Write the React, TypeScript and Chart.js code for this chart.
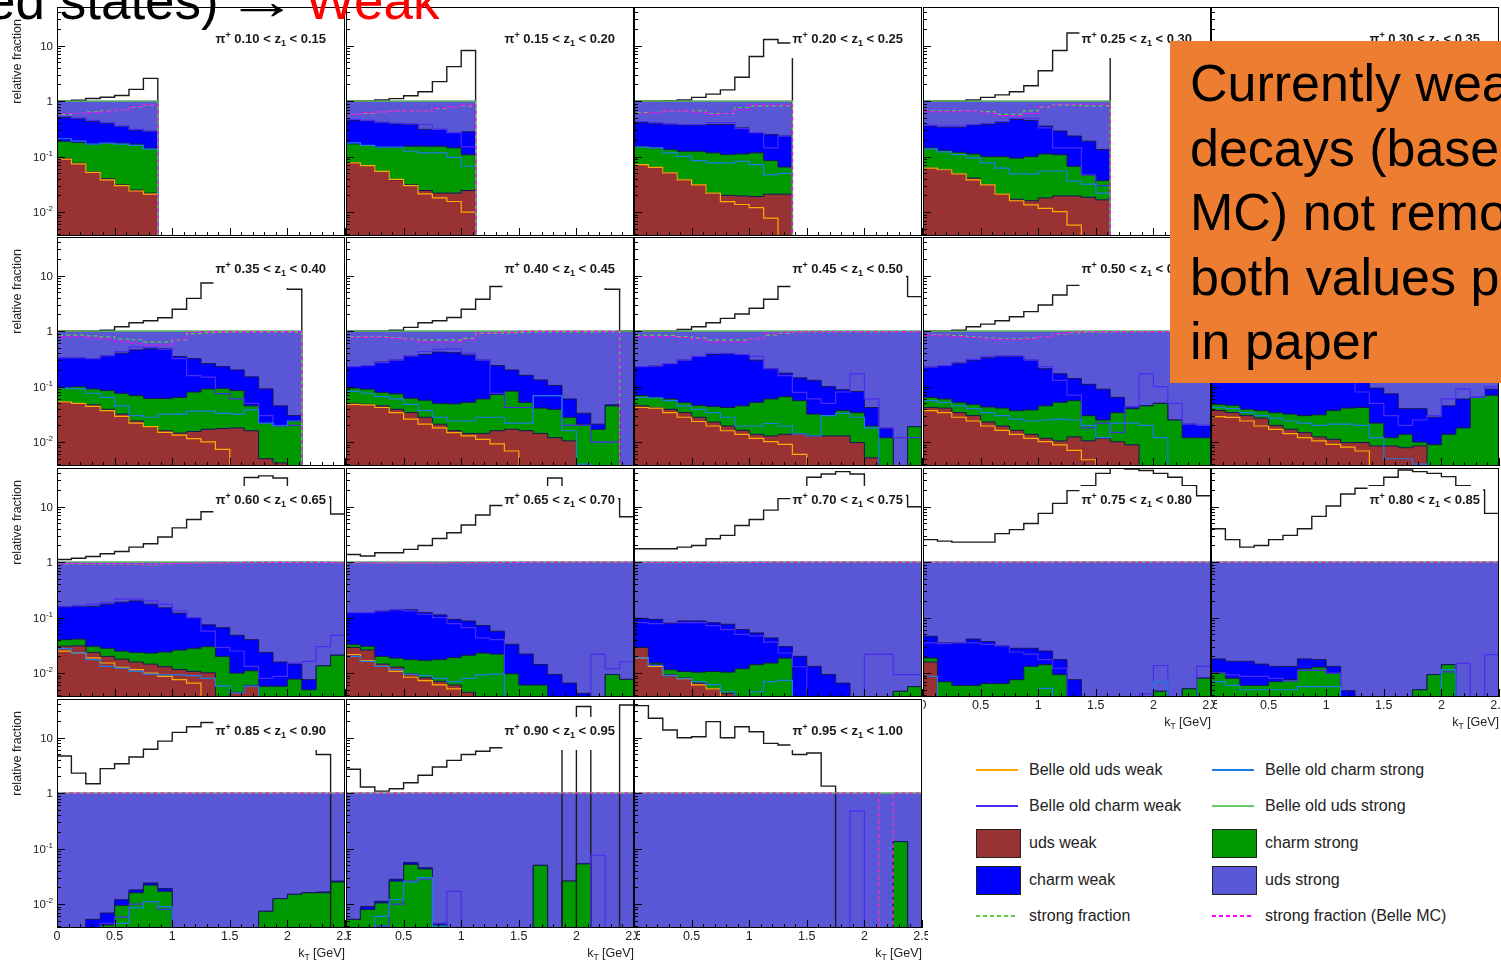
import React, { useEffect, useRef } from "react";
import { Chart, registerables } from "chart.js";

Chart.register(...registerables);

const FONT = '"Liberation Sans", Arial, Helvetica, sans-serif';

// ---------------- axes ----------------
const Y_MIN = 0.0037;
const Y_MAX = 50;
const KT_MIN = 0;
const KT_MAX = 2.5;
const BIN_WIDTH = 0.125;
const N_BINS = 20;
const kTTickValues = [0, 0.5, 1, 1.5, 2, 2.5];
const kTTickLabels = ["0", "0.5", "1", "1.5", "2", "2.5"];
const yTickValues = [0.01, 0.1, 1, 10];
const yTickBase = ["10", "10", "1", "10"];
const yTickExponent = ["-2", "-1", "", ""];

// ---------------- z1 bins ----------------
const zLow = [0.1, 0.15, 0.2, 0.25, 0.3, 0.35, 0.4, 0.45, 0.5, 0.55, 0.6, 0.65, 0.7, 0.75, 0.8, 0.85, 0.9, 0.95];
const zHigh = [0.15, 0.2, 0.25, 0.3, 0.35, 0.4, 0.45, 0.5, 0.55, 0.6, 0.65, 0.7, 0.75, 0.8, 0.85, 0.9, 0.95, 1.0];

// number of kT bins (0.125 GeV each) that are filled in each panel (the stack sums to 1 there)
const filledBins = [7, 9, 11, 13, 15, 17, 20, 20, 20, 20, 20, 20, 20, 20, 20, 20, 20, 20];

// black histogram (ratio), one row per z1 panel
const ratio: number[][] = [
  [1.0, 1.04, 1.12, 1.18, 1.27, 1.63, 2.58],
  [1.0, 1.0, 1.05, 1.11, 1.25, 1.48, 2.25, 4.2, 8.2],
  [1.0, 1.0, 1.01, 1.05, 1.17, 1.34, 1.6, 2.7, 6.4, 13, 11.2],
  [1.0, 1.0, 1.0, 1.05, 1.17, 1.3, 1.48, 1.9, 3.55, 8.2, 17, 20, 22],
  [1.0, 1.0, 1.02, 1.06, 1.15, 1.3, 1.5, 1.9, 2.8, 5.5, 11, 16, 19, 20, 8],
  [1.0, 1.0, 1.0, 1.04, 1.2, 1.42, 1.54, 1.75, 2.48, 3.9, 7.4, 12, 16, 20, 22, 18, 5.7],
  [1.0, 1.0, 1.0, 1.04, 1.17, 1.42, 1.54, 1.77, 2.48, 3.76, 6.4, 10, 14, 18, 20, 18, 14, 10, 5.7, 1.0],
  [1.0, 1.0, 1.0, 1.07, 1.2, 1.42, 1.7, 2.04, 2.6, 3.76, 6.4, 10, 14, 18, 20, 20, 18, 14, 9.7, 4.2],
  [1.0, 1.0, 1.04, 1.2, 1.34, 1.54, 1.82, 2.25, 2.97, 4.5, 6.7, 10, 14, 18, 20, 21, 20, 18, 12, 6],
  [1.05, 1.05, 1.1, 1.2, 1.35, 1.55, 1.85, 2.3, 3.0, 4.6, 7, 11, 16, 22, 26, 28, 26, 22, 15, 7],
  [1.12, 1.18, 1.27, 1.42, 1.56, 1.87, 2.15, 2.85, 4.15, 5.9, 8.1, 13, 20, 33.7, 36, 33, 20, 18, 15, 7.4],
  [1.38, 1.29, 1.48, 1.48, 1.7, 2.0, 2.67, 3.4, 4.7, 7.1, 10.5, 15, 20, 22, 33, 22, 20, 18, 14, 6.6],
  [1.75, 1.75, 1.75, 1.87, 2.0, 2.65, 3.05, 4.6, 5.9, 8.7, 14, 20, 34, 39, 43, 39, 22, 20, 16, 10],
  [2.55, 2.4, 2.3, 2.3, 2.3, 3.27, 3.87, 5.0, 7.6, 11.5, 19.5, 24, 40, 50, 48, 45, 40, 34, 24, 15.8],
  [4.0, 2.55, 1.87, 2.0, 2.55, 3.05, 4.0, 6.7, 10.3, 17, 21.5, 24, 34, 46, 43, 40, 35, 24, 20, 7.6],
  [4.7, 2.3, 1.48, 2.77, 3.4, 4.5, 6.2, 8.7, 12.5, 15.8, 18.8, 20, 20, 20, 20, 20, 20, 18, 5.0, 0],
  [2.7, 1.29, 1.09, 1.2, 1.54, 2.1, 2.97, 3.9, 5.0, 5.7, 6.6, 8, 10, 12, 14, 0, 36.6, 0, 0, 39],
  [38, 22.5, 13.8, 10, 10.4, 19.5, 10, 15.8, 12.8, 7.9, 7.4, 5.0, 5.3, 1.34],
];

// stack boundaries (cumulative): top of "uds weak"
const udsWeakLevel: number[][] = [
  [0.093, 0.076, 0.053, 0.04, 0.031, 0.025, 0.022],
  [0.077, 0.069, 0.054, 0.038, 0.031, 0.0245, 0.022, 0.022, 0.0245],
  [0.072, 0.064, 0.051, 0.038, 0.031, 0.022, 0.02, 0.0195, 0.019, 0.021, 0.021],
  [0.062, 0.058, 0.049, 0.041, 0.031, 0.021, 0.017, 0.016, 0.018, 0.0195, 0.0195, 0.0185, 0.0166],
  [0.058, 0.054, 0.046, 0.038, 0.03, 0.022, 0.018, 0.016, 0.016, 0.017, 0.018, 0.018, 0.017, 0.016, 0.012],
  [0.053, 0.05, 0.047, 0.039, 0.032, 0.024, 0.019, 0.016, 0.0145, 0.0155, 0.017, 0.0175, 0.018, 0.016, 0.005, 0.0042, 0],
  [0.05, 0.048, 0.045, 0.039, 0.034, 0.028, 0.021, 0.016, 0.0143, 0.0143, 0.016, 0.017, 0.016, 0.0143, 0.012, 0.0105],
  [0.045, 0.042, 0.039, 0.034, 0.028, 0.023, 0.0195, 0.0163, 0.0138, 0.0129, 0.0138, 0.0141, 0.0129, 0.0129, 0.0129, 0.0098, 0.0052],
  [0.042, 0.041, 0.034, 0.03, 0.023, 0.0195, 0.0163, 0.0138, 0.0117, 0.0105, 0.0124, 0.0105, 0.0117, 0.0101, 0.0089],
  [0.037, 0.034, 0.03, 0.027, 0.02, 0.017, 0.0148, 0.0124, 0.0112, 0.0098, 0.0098, 0.0085, 0.0085, 0.0079, 0.0085],
  [0.0305, 0.031, 0.0236, 0.02, 0.0178, 0.0158, 0.0145, 0.013, 0.0116, 0.0107, 0.0101, 0, 0.0045, 0.006],
  [0.029, 0.026, 0.0145, 0.0128, 0.0097, 0.0082, 0.0071, 0.0061, 0.0045],
  [0.029, 0.0145, 0.0094, 0.0081, 0.0066, 0.0052, 0.0043],
  [0.0158],
  [],
  [],
  [],
  [],
];

// top of "charm strong" (uds weak + charm strong)
const charmStrongLevel: number[][] = [
  [0.19, 0.18, 0.168, 0.175, 0.175, 0.168, 0.142],
  [0.17, 0.16, 0.148, 0.148, 0.154, 0.154, 0.154, 0.144, 0.108],
  [0.154, 0.144, 0.134, 0.125, 0.125, 0.117, 0.109, 0.112, 0.117, 0.085, 0.065],
  [0.144, 0.13, 0.12, 0.112, 0.1, 0.1, 0.094, 0.1, 0.112, 0.108, 0.067, 0.047, 0.037],
  [0.13, 0.12, 0.11, 0.1, 0.092, 0.085, 0.08, 0.08, 0.09, 0.095, 0.08, 0.06, 0.045, 0.035, 0.03],
  [0.097, 0.1, 0.091, 0.085, 0.076, 0.069, 0.061, 0.061, 0.064, 0.08, 0.091, 0.093, 0.085, 0.045, 0.022, 0.0195, 0.024],
  [0.094, 0.09, 0.079, 0.074, 0.062, 0.057, 0.05, 0.049, 0.052, 0.06, 0.072, 0.083, 0.052, 0.041, 0.039, 0.028, 0.021, 0.017, 0.045, 0],
  [0.069, 0.064, 0.06, 0.052, 0.046, 0.044, 0.042, 0.045, 0.052, 0.06, 0.066, 0.056, 0.032, 0.03, 0.037, 0.034, 0.0195, 0.012, 0, 0.019],
  [0.064, 0.06, 0.052, 0.048, 0.043, 0.041, 0.037, 0.038, 0.045, 0.052, 0.056, 0.03, 0.025, 0.034, 0.04, 0.045, 0.05, 0.025, 0.012, 0.012],
  [0.048, 0.046, 0.039, 0.037, 0.034, 0.032, 0.03, 0.031, 0.037, 0.041, 0.042, 0.022, 0.012, 0.0138, 0.01, 0.009, 0.0138, 0.018, 0.064, 0.07],
  [0.04, 0.041, 0.0305, 0.028, 0.025, 0.0236, 0.023, 0.024, 0.026, 0.028, 0.03, 0.02, 0.01, 0.011, 0.0058, 0.0058, 0.0078, 0.005, 0.0135, 0.021],
  [0.033, 0.0305, 0.02, 0.0186, 0.0175, 0.017, 0.0175, 0.019, 0.021, 0.023, 0.022, 0.0097, 0.0061, 0.0061, 0, 0, 0, 0, 0.0094, 0.0077],
  [0.029, 0.0152, 0.0115, 0.0107, 0.0104, 0.0107, 0.0104, 0.012, 0.0142, 0.0152, 0.0186, 0, 0, 0, 0, 0, 0, 0, 0.0047, 0.0057],
  [0.0187, 0.007, 0.006, 0.006, 0.0065, 0.0065, 0.0076, 0.0132, 0.0142, 0.0094, 0, 0, 0, 0, 0, 0, 0.0047, 0, 0.0052, 0.0081],
  [0.0104, 0.0081, 0.006, 0.006, 0.007, 0.0076, 0.012, 0.0128, 0.01, 0, 0, 0, 0, 0, 0.005, 0.0094, 0.0142],
  [0, 0, 0, 0.0042, 0.0095, 0.016, 0.022, 0.017, 0, 0, 0, 0, 0, 0, 0.0074, 0.0125, 0.015, 0.016, 0.016, 0.025],
  [0.0053, 0.008, 0.0105, 0.026, 0.052, 0.043, 0.0042, 0, 0, 0, 0, 0, 0, 0.05, 0, 0.026, 0.053],
  [0, 0, 0, 0, 0, 0, 0, 0, 0, 0, 0, 0, 0, 0, 0, 0, 0, 0, 0.134],
];

// top of "charm weak" (uds weak + charm strong + charm weak)
const charmWeakLevel: number[][] = [
  [0.51, 0.48, 0.43, 0.4, 0.35, 0.3, 0.285],
  [0.45, 0.44, 0.41, 0.39, 0.38, 0.31, 0.31, 0.27, 0.28],
  [0.41, 0.39, 0.38, 0.37, 0.37, 0.38, 0.38, 0.33, 0.27, 0.25, 0.235],
  [0.355, 0.34, 0.34, 0.37, 0.38, 0.41, 0.47, 0.45, 0.355, 0.29, 0.235, 0.19, 0.134],
  [0.34, 0.33, 0.34, 0.36, 0.39, 0.43, 0.47, 0.46, 0.38, 0.31, 0.26, 0.21, 0.17, 0.12, 0.07],
  [0.33, 0.33, 0.32, 0.36, 0.4, 0.46, 0.48, 0.48, 0.35, 0.32, 0.26, 0.23, 0.2, 0.15, 0.091, 0.045, 0.03],
  [0.23, 0.24, 0.277, 0.3, 0.35, 0.38, 0.42, 0.41, 0.37, 0.3, 0.24, 0.2, 0.16, 0.132, 0.105, 0.06, 0.033, 0.021, 0.047, 0],
  [0.23, 0.235, 0.26, 0.3, 0.35, 0.38, 0.39, 0.38, 0.3, 0.21, 0.175, 0.144, 0.13, 0.1, 0.088, 0.082, 0.042, 0.0175, 0, 0.019],
  [0.225, 0.24, 0.26, 0.3, 0.33, 0.35, 0.35, 0.3, 0.21, 0.17, 0.14, 0.11, 0.09, 0.064, 0.043, 0.045, 0.05, 0.025, 0.021, 0.02],
  [0.22, 0.24, 0.27, 0.3, 0.33, 0.35, 0.36, 0.34, 0.28, 0.22, 0.14, 0.094, 0.074, 0.04, 0.04, 0.028, 0.045, 0.06, 0.064, 0.09],
  [0.157, 0.16, 0.16, 0.175, 0.19, 0.2, 0.175, 0.15, 0.12, 0.1, 0.074, 0.066, 0.048, 0.04, 0.0236, 0.0158, 0.0145, 0.0076, 0.0135, 0.021],
  [0.123, 0.123, 0.13, 0.138, 0.138, 0.123, 0.112, 0.093, 0.087, 0.072, 0.057, 0.033, 0.022, 0.0142, 0.0094, 0.0066, 0.0043, 0, 0.0094, 0.0077],
  [0.097, 0.093, 0.078, 0.087, 0.087, 0.081, 0.076, 0.061, 0.053, 0.043, 0.03, 0.02, 0.0132, 0.0094, 0.0066, 0, 0, 0, 0.0047, 0.0057],
  [0.046, 0.035, 0.035, 0.041, 0.037, 0.031, 0.028, 0.028, 0.025, 0.0175, 0.0076, 0, 0, 0, 0, 0, 0.0047, 0, 0.0052, 0.0081],
  [0.018, 0.0163, 0.0163, 0.0145, 0.0132, 0.0132, 0.018, 0.0175, 0.0132, 0.0048, 0, 0, 0, 0, 0.005, 0.0094, 0.0142],
  [0, 0, 0.0053, 0.0069, 0.012, 0.018, 0.024, 0.019, 0, 0, 0, 0, 0, 0, 0.0074, 0.0125, 0.015, 0.016, 0.0165, 0.026],
  [0.0053, 0.009, 0.0112, 0.028, 0.056, 0.045, 0.0045, 0, 0, 0, 0, 0, 0, 0.05, 0, 0.026, 0.053],
  [0, 0, 0, 0, 0, 0, 0, 0, 0, 0, 0, 0, 0, 0, 0, 0, 0, 0, 0.134],
];

// Belle old curves (drawn at their stacked levels)
const belleUdsWeak: number[][] = [
  [0.09, 0.074, 0.052, 0.038, 0.03, 0.024, 0.021],
  [0.077, 0.069, 0.054, 0.039, 0.03, 0.0213, 0.018, 0.0155, 0.01],
  [0.072, 0.064, 0.051, 0.038, 0.031, 0.022, 0.0154, 0.0137, 0.012, 0.0078],
  [0.062, 0.058, 0.049, 0.038, 0.031, 0.021, 0.016, 0.0135, 0.0117, 0.0102, 0.0058],
  [0.058, 0.054, 0.046, 0.036, 0.028, 0.02, 0.016, 0.013, 0.011, 0.0095, 0.0075, 0.005],
  [0.053, 0.05, 0.044, 0.037, 0.029, 0.022, 0.019, 0.015, 0.0133, 0.0115, 0.0101, 0.0074],
  [0.048, 0.047, 0.042, 0.034, 0.026, 0.021, 0.018, 0.0148, 0.0129, 0.0112, 0.0093, 0.0069],
  [0.042, 0.041, 0.034, 0.028, 0.0235, 0.0195, 0.016, 0.0138, 0.0117, 0.0102, 0.0091, 0.006],
  [0.037, 0.034, 0.028, 0.024, 0.0195, 0.0163, 0.0138, 0.0117, 0.0102, 0.0089, 0.0071, 0.0048],
  [0.0287, 0.0279, 0.024, 0.0195, 0.017, 0.0142, 0.012, 0.0105, 0.0091, 0.0081, 0.0069],
  [0.0248, 0.0231, 0.0188, 0.0152, 0.0127, 0.0115, 0.01, 0.0087, 0.0076, 0.0066],
  [0.0216, 0.0168, 0.0132, 0.0107, 0.0084, 0.0073, 0.0061, 0.0052],
  [0.0188, 0.0132, 0.0091, 0.0079, 0.0061, 0.0052],
  [],
  [],
  [],
  [],
  [],
];

const belleCharmStrong: number[][] = [
  [0.21, 0.19, 0.168, 0.175, 0.168, 0.159, 0.136],
  [0.177, 0.16, 0.148, 0.148, 0.125, 0.117, 0.117, 0.097, 0.067],
  [0.148, 0.144, 0.117, 0.101, 0.085, 0.077, 0.077, 0.082, 0.072, 0.047, 0.05],
  [0.137, 0.122, 0.109, 0.095, 0.077, 0.062, 0.049, 0.049, 0.055, 0.055, 0.036, 0.032, 0.022],
  [0.125, 0.11, 0.095, 0.08, 0.065, 0.055, 0.047, 0.045, 0.045, 0.045, 0.035, 0.03, 0.025, 0.02, 0.015],
  [0.094, 0.091, 0.076, 0.064, 0.045, 0.03, 0.028, 0.032, 0.032, 0.036, 0.036, 0.033, 0.032, 0.038, 0.022, 0.0195, 0.024],
  [0.082, 0.076, 0.066, 0.06, 0.048, 0.037, 0.028, 0.024, 0.024, 0.028, 0.028, 0.022, 0.022, 0.069, 0.069, 0.016, 0.004],
  [0.064, 0.063, 0.056, 0.045, 0.039, 0.034, 0.028, 0.0195, 0.0195, 0.0216, 0.0195, 0.0141, 0.0129, 0.03, 0.033, 0.028, 0.018],
  [0.056, 0.052, 0.045, 0.04, 0.034, 0.03, 0.026, 0.024, 0.025, 0.026, 0.025, 0.02, 0.012, 0.022, 0.022, 0.02, 0.012],
  [0.042, 0.04, 0.034, 0.03, 0.027, 0.024, 0.022, 0.02, 0.021, 0.021, 0.02, 0.012, 0.005, 0.005, 0.004],
  [0.0277, 0.0231, 0.0175, 0.0132, 0.0123, 0.0107, 0.0096, 0.0093, 0.0093, 0.009, 0.008, 0.0058, 0.0044, 0.0058],
  [0.02, 0.0163, 0.0132, 0.0115, 0.0096, 0.009, 0.008, 0.007, 0.008, 0.0093, 0.0096],
  [0.0188, 0.0138, 0.009, 0.0079, 0.007, 0.0062, 0.0046, 0, 0.0046, 0.007, 0.0074],
  [0.0087, 0, 0, 0, 0, 0, 0, 0, 0.0053, 0, 0, 0, 0, 0, 0, 0, 0.007],
  [0.007, 0.006, 0.005, 0.005, 0.005, 0.005, 0.0057, 0.0057, 0.0057, 0, 0, 0, 0, 0, 0, 0, 0.0115],
  [0, 0, 0, 0, 0.0045, 0.0085, 0.011, 0.009],
  [0, 0, 0.006, 0.012, 0.025, 0.03, 0.004],
  [],
];

const belleCharmWeak: number[][] = [
  [0.53, 0.5, 0.45, 0.41, 0.36, 0.31, 0.29],
  [0.47, 0.45, 0.42, 0.4, 0.39, 0.38, 0.31, 0.27, 0.15],
  [0.43, 0.41, 0.39, 0.38, 0.38, 0.41, 0.41, 0.32, 0.27, 0.144, 0.235],
  [0.37, 0.355, 0.355, 0.38, 0.4, 0.43, 0.49, 0.49, 0.33, 0.144, 0.144, 0.047, 0.03],
  [0.35, 0.34, 0.35, 0.38, 0.41, 0.46, 0.5, 0.48, 0.34, 0.16, 0.14, 0.07, 0.05, 0.03, 0.02],
  [0.33, 0.33, 0.32, 0.36, 0.43, 0.52, 0.51, 0.47, 0.32, 0.158, 0.148, 0.075, 0.06, 0.05, 0.03, 0.02, 0.02],
  [0.23, 0.24, 0.27, 0.3, 0.36, 0.43, 0.47, 0.48, 0.4, 0.3, 0.076, 0.042, 0.042, 0.069, 0.069, 0.02, 0.02, 0.01, 0.01],
  [0.23, 0.235, 0.26, 0.3, 0.35, 0.4, 0.4, 0.38, 0.35, 0.21, 0.158, 0.079, 0.06, 0.05, 0.08, 0.17, 0.06, 0.018, 0.012, 0.012],
  [0.225, 0.24, 0.27, 0.31, 0.35, 0.36, 0.36, 0.3, 0.23, 0.13, 0.07, 0.018, 0.022, 0.015, 0.043, 0.17, 0.1, 0.05, 0.021, 0.02],
  [0.22, 0.24, 0.27, 0.3, 0.34, 0.36, 0.36, 0.3, 0.22, 0.14, 0.08, 0.05, 0.03, 0.02, 0.025, 0.03, 0.06, 0.09, 0.064, 0.1],
  [0.157, 0.163, 0.175, 0.187, 0.215, 0.215, 0.2, 0.175, 0.133, 0.1, 0.057, 0.029, 0.025, 0.0132, 0.008, 0.0087, 0.0152, 0.0163, 0.03, 0.048],
  [0.123, 0.123, 0.132, 0.138, 0.132, 0.115, 0.1, 0.078, 0.066, 0.043, 0.04, 0, 0, 0, 0, 0, 0, 0.022, 0.012, 0.016],
  [0.081, 0.078, 0.081, 0.081, 0.081, 0.072, 0.061, 0.05, 0.047, 0.036, 0.023, 0.013, 0, 0, 0, 0, 0.022, 0.022, 0.0094, 0.0094],
  [0.035, 0.034, 0.035, 0.035, 0.033, 0.031, 0.024, 0.022, 0.0175, 0.0122, 0, 0, 0, 0, 0, 0.0042, 0.0137, 0, 0, 0.0132],
  [0.01, 0.0093, 0.0087, 0.0087, 0.008, 0.0072, 0.0112, 0.0112, 0.01, 0, 0, 0, 0, 0, 0, 0, 0.0105, 0.015, 0, 0.0215],
  [0, 0, 0, 0.0045, 0.0058, 0.01, 0.011, 0.008],
  [0, 0, 0.004, 0.01, 0.026, 0.028, 0.0045, 0.017, 0, 0, 0, 0, 0, 0, 0, 0, 0, 0.076],
  [0, 0, 0, 0, 0, 0, 0, 0, 0, 0, 0, 0, 0, 0, 0, 0.48],
];

// strong fraction (this analysis) and strong fraction (Belle MC)
const strongFraction: number[][] = [
  [0.57, 0.6, 0.64, 0.66, 0.7, 0.78, 0.85],
  [0.58, 0.6, 0.64, 0.66, 0.67, 0.67, 0.73, 0.8, 0.82],
  [0.62, 0.63, 0.67, 0.67, 0.67, 0.6, 0.6, 0.77, 0.82, 0.82, 0.82],
  [0.67, 0.67, 0.67, 0.67, 0.65, 0.58, 0.58, 0.67, 0.79, 0.86, 0.85, 0.82, 0.82],
  [0.7, 0.7, 0.7, 0.68, 0.65, 0.6, 0.6, 0.68, 0.8, 0.86, 0.88, 0.9, 0.9, 0.9, 0.92],
  [0.85, 0.85, 0.82, 0.79, 0.72, 0.7, 0.64, 0.64, 0.7, 0.9, 0.93, 0.95, 0.97, 0.97, 0.97, 0.97, 0.97],
  [0.79, 0.8, 0.79, 0.77, 0.72, 0.69, 0.69, 0.69, 0.74, 0.91, 0.92, 0.93, 0.96, 0.97, 0.97, 0.97, 0.97, 0.97, 0.98, 0],
  [0.85, 0.85, 0.84, 0.8, 0.75, 0.69, 0.69, 0.69, 0.73, 0.85, 0.92, 0.96, 0.97, 0.97, 0.97, 0.97, 0.97, 0.98, 0.98, 0.98],
  [0.86, 0.85, 0.83, 0.79, 0.75, 0.73, 0.73, 0.75, 0.8, 0.88, 0.93, 0.95, 0.96, 0.97, 0.97, 0.98, 0.98, 0.98, 0.98, 0.98],
  [0.88, 0.87, 0.86, 0.83, 0.8, 0.78, 0.78, 0.8, 0.85, 0.9, 0.94, 0.96, 0.97, 0.97, 0.98, 0.98, 0.98, 0.98, 0.98, 0.98],
  [0.93, 0.93, 0.92, 0.92, 0.91, 0.91, 0.9, 0.92, 0.94, 0.95, 0.96, 0.97, 0.98, 0.98, 0.99, 0.99, 0.99, 0.99, 0.99, 0.98],
  [0.97, 0.97, 0.96, 0.96, 0.96, 0.96, 0.96, 0.97, 0.97, 0.98, 0.98, 0.99, 0.99, 0.99, 1, 1, 1, 1, 0.99, 0.99],
  [0.98, 0.98, 0.98, 0.98, 0.98, 0.98, 0.98, 0.98, 0.99, 0.99, 0.99, 1, 1, 1, 1, 1, 1, 1, 1, 1],
  [0.99, 0.99, 0.99, 0.99, 0.99, 0.99, 0.99, 0.99, 0.99, 1, 1, 1, 1, 1, 1, 1, 1, 1, 1, 1],
  [1, 1, 1, 1, 1, 1, 1, 1, 1, 1, 1, 1, 1, 1, 1, 1, 1, 1, 1, 1],
  [1, 1, 1, 1, 1, 1, 1, 1, 1, 1, 1, 1, 1, 1, 1, 1, 1, 1, 1, 1],
  [1, 1, 1, 1, 1, 1, 1, 1, 1, 1, 1, 1, 1, 1, 1, 1, 1, 1, 1, 1],
  [1, 1, 1, 1, 1, 1, 1, 1, 1, 1, 1, 1, 1, 1, 1, 1, 1, 0, 1, 1],
];

const strongFractionBelle: number[][] = [
  [0.6, 0.6, 0.62, 0.64, 0.7, 0.8, 0.87],
  [0.58, 0.62, 0.64, 0.66, 0.67, 0.67, 0.76, 0.8, 0.85],
  [0.6, 0.62, 0.67, 0.67, 0.63, 0.58, 0.6, 0.7, 0.85, 0.85, 0.85],
  [0.65, 0.65, 0.65, 0.66, 0.6, 0.55, 0.55, 0.6, 0.8, 0.88, 0.88, 0.88, 0.88],
  [0.68, 0.68, 0.68, 0.66, 0.62, 0.57, 0.57, 0.65, 0.8, 0.88, 0.9, 0.91, 0.92, 0.92, 0.93],
  [0.79, 0.79, 0.76, 0.72, 0.65, 0.6, 0.56, 0.56, 0.7, 0.95, 0.97, 0.97, 0.97, 0.98, 0.98, 0.98, 0.98],
  [0.77, 0.78, 0.77, 0.74, 0.7, 0.64, 0.64, 0.64, 0.7, 0.92, 0.94, 0.96, 0.99, 0.99, 0.99, 0.99, 0.99, 0.99, 0.99, 0],
  [0.8, 0.8, 0.8, 0.77, 0.72, 0.64, 0.64, 0.64, 0.72, 0.9, 0.95, 0.97, 0.98, 0.98, 0.98, 0.98, 0.98, 0.98, 0.98, 0.98],
  [0.84, 0.82, 0.8, 0.77, 0.72, 0.7, 0.7, 0.72, 0.8, 0.9, 0.95, 0.97, 0.98, 0.98, 0.98, 0.98, 0.98, 0.98, 0.98, 0.98],
  [0.87, 0.86, 0.85, 0.82, 0.79, 0.77, 0.77, 0.79, 0.85, 0.91, 0.95, 0.97, 0.98, 0.98, 0.98, 0.98, 0.98, 0.98, 0.98, 0.98],
  [0.95, 0.95, 0.94, 0.94, 0.93, 0.93, 0.92, 0.93, 0.95, 0.96, 0.97, 0.98, 0.98, 0.99, 0.99, 0.99, 0.99, 0.99, 0.99, 0.98],
  [0.98, 0.98, 0.97, 0.97, 0.97, 0.97, 0.97, 0.98, 0.98, 0.98, 0.99, 0.99, 0.99, 1, 1, 1, 1, 1, 1, 1],
  [0.99, 0.99, 0.99, 0.99, 0.99, 0.99, 0.99, 0.99, 0.99, 1, 1, 1, 1, 1, 1, 1, 1, 1, 1, 1],
  [1, 1, 1, 1, 1, 1, 1, 1, 1, 1, 1, 1, 1, 1, 1, 1, 1, 1, 1, 1],
  [1, 1, 1, 1, 1, 1, 1, 1, 1, 1, 1, 1, 1, 1, 1, 1, 1, 1, 1, 1],
  [1, 1, 1, 1, 1, 1, 1, 1, 1, 1, 1, 1, 1, 1, 1, 1, 1, 1, 1, 1],
  [1, 1, 1, 1, 1, 1, 1, 1, 1, 1, 1, 1, 1, 1, 1, 1, 1, 1, 1, 1],
  [1, 1, 1, 1, 1, 1, 1, 1, 1, 1, 1, 1, 1, 1, 1, 1, 1, 0, 1, 1],
];

// ---------------- colours ----------------
const C_UDS_WEAK = "#993333";
const C_CHARM_STRONG = "#009900";
const C_CHARM_WEAK = "#0000ff";
const C_UDS_STRONG = "#5957d6";
const C_EDGE = "#17175a";
const C_BELLE_UDS_WEAK = "#ffaa00";
const C_BELLE_CHARM_WEAK = "#4a2cf0";
const C_BELLE_CHARM_STRONG = "#1f7be6";
const C_BELLE_UDS_STRONG = "#66cc66";
const C_SF = "#5fcc3f";
const C_SF_BELLE = "#ff00ff";

// ---------------- layout ----------------
const COL_LEFT = [57, 346, 634, 923, 1211];
const ROW_TOP = [7, 237, 468, 699];
const PLOT_W = 288;
const PLOT_H = 229;
const M_L = 57;
const M_R = 6;
const M_T = 6;
const M_B = 36;

function stepPoints(vals: number[]) {
  const pts: { x: number; y: number }[] = [{ x: KT_MIN, y: Y_MIN }];
  let last = Y_MIN;
  for (let i = 0; i < N_BINS; i++) {
    const v = vals[i] ?? 0;
    last = v > Y_MIN ? v : Y_MIN;
    pts.push({ x: KT_MIN + i * BIN_WIDTH, y: last });
  }
  pts.push({ x: KT_MIN + N_BINS * BIN_WIDTH, y: last });
  return pts;
}

type Run = { t: string; size: number; bold?: boolean; dy: number };

function measureRuns(ctx: CanvasRenderingContext2D, runs: Run[]) {
  let w = 0;
  for (const r of runs) {
    ctx.font = `${r.bold ? "bold " : ""}${r.size}px ${FONT}`;
    w += ctx.measureText(r.t).width;
  }
  return w;
}

function drawRuns(ctx: CanvasRenderingContext2D, runs: Run[], x: number, baseline: number) {
  for (const r of runs) {
    ctx.font = `${r.bold ? "bold " : ""}${r.size}px ${FONT}`;
    ctx.fillText(r.t, x, baseline + r.dy);
    x += ctx.measureText(r.t).width;
  }
}

const decorPlugin = {
  id: "decor",
  afterDatasetsDraw(chart: any, _args: any, o: any) {
    const ctx: CanvasRenderingContext2D = chart.ctx;
    const a = chart.chartArea;
    const xs = chart.scales.x;
    const ys = chart.scales.y;
    ctx.save();
    ctx.textAlign = "left";
    ctx.textBaseline = "alphabetic";

    // panel label in a white box
    const runs: Run[] = [
      { t: "π", size: 13, bold: true, dy: 0 },
      { t: "+", size: 9, bold: true, dy: -5 },
      { t: " " + o.lo + " < z", size: 13, bold: true, dy: 0 },
      { t: "1", size: 9, bold: true, dy: 3 },
      { t: " < " + o.hi, size: 13, bold: true, dy: 0 },
    ];
    const w = measureRuns(ctx, runs);
    const textRight = a.right - 19;
    const textLeft = textRight - w;
    ctx.fillStyle = "#ffffff";
    ctx.fillRect(textLeft - 2, a.top + 18, a.right - 16 - (textLeft - 2), 33);
    ctx.fillStyle = "#1a1a1a";
    drawRuns(ctx, runs, textLeft, a.top + 36);

    // frame
    ctx.strokeStyle = "#000";
    ctx.lineWidth = 1;
    ctx.strokeRect(Math.round(a.left) + 0.5, Math.round(a.top) + 0.5, Math.round(a.right - a.left) - 1, Math.round(a.bottom - a.top) - 1);

    // ticks
    ctx.beginPath();
    for (let e = -3; e <= 1; e++) {
      for (let m = 1; m <= 9; m++) {
        const v = m * Math.pow(10, e);
        if (v < Y_MIN || v > Y_MAX) continue;
        const py = Math.round(ys.getPixelForValue(v)) + 0.5;
        const len = m === 1 ? 8 : 4;
        ctx.moveTo(a.left, py);
        ctx.lineTo(a.left + len, py);
      }
    }
    for (let k = 0; k <= 25; k++) {
      const px = Math.round(xs.getPixelForValue(k * 0.1)) + 0.5;
      const len = k % 5 === 0 ? 8 : 4;
      ctx.moveTo(px, a.bottom);
      ctx.lineTo(px, a.bottom - len);
    }
    ctx.stroke();

    ctx.fillStyle = "#222";
    if (o.yLabels) {
      yTickValues.forEach((v, i) => {
        const py = ys.getPixelForValue(v);
        const r: Run[] = [{ t: yTickBase[i], size: 11.5, dy: 0 }];
        if (yTickExponent[i]) r.push({ t: yTickExponent[i], size: 8, dy: -5 });
        const ww = measureRuns(ctx, r);
        drawRuns(ctx, r, a.left - 4 - ww, py + 4);
      });
      ctx.save();
      ctx.translate(18, a.top + 12);
      ctx.rotate(-Math.PI / 2);
      ctx.font = `12.5px ${FONT}`;
      ctx.textAlign = "right";
      ctx.textBaseline = "middle";
      ctx.fillText("relative fraction", 0, 0);
      ctx.restore();
    }
    if (o.xLabels) {
      ctx.save();
      if (!o.firstCol) {
        // the pad boundary hides the left half of the "0" label
        ctx.beginPath();
        ctx.rect(a.left, 0, 2000, 2000);
        ctx.clip();
      }
      ctx.font = `12.5px ${FONT}`;
      ctx.textAlign = "center";
      ctx.textBaseline = "middle";
      kTTickValues.forEach((v, i) => {
        ctx.fillText(kTTickLabels[i], xs.getPixelForValue(v), a.bottom + 9);
      });
      ctx.restore();
      ctx.textAlign = "left";
      ctx.textBaseline = "alphabetic";
      const t: Run[] = [
        { t: "k", size: 12.5, dy: 0 },
        { t: "T", size: 8.5, dy: 3 },
        { t: " [GeV]", size: 12.5, dy: 0 },
      ];
      const tw = measureRuns(ctx, t);
      drawRuns(ctx, t, a.right - tw, a.bottom + 29);
    }
    ctx.restore();
  },
};

function Panel({ idx }: { idx: number }) {
  const ref = useRef<HTMLCanvasElement | null>(null);
  const row = Math.floor(idx / 5);
  const col = idx % 5;
  useEffect(() => {
    const canvas = ref.current;
    if (!canvas) return;
    const nFilled = filledBins[idx];
    const udsStrongLevel = Array.from({ length: N_BINS }, (_, i) => (i < nFilled ? 1 : 0));
    const line = (label: string, vals: number[], extra: any) => ({
      type: "line",
      label,
      data: stepPoints(vals),
      stepped: true,
      pointRadius: 0,
      pointHoverRadius: 0,
      borderWidth: 1.2,
      fill: false,
      borderCapStyle: "butt",
      borderJoinStyle: "miter",
      ...extra,
    });
    const chart = new Chart(canvas, {
      type: "line",
      data: {
        datasets: [
          line("strong fraction (Belle MC)", strongFractionBelle[idx], { borderColor: C_SF_BELLE, borderDash: [4, 3] }),
          line("strong fraction", strongFraction[idx], { borderColor: C_SF, borderDash: [4, 3] }),
          line("Belle old uds strong", udsStrongLevel, { borderColor: C_BELLE_UDS_STRONG }),
          line("Belle old charm strong", belleCharmStrong[idx], { borderColor: C_BELLE_CHARM_STRONG }),
          line("Belle old charm weak", belleCharmWeak[idx], { borderColor: C_BELLE_CHARM_WEAK }),
          line("Belle old uds weak", belleUdsWeak[idx], { borderColor: C_BELLE_UDS_WEAK }),
          line("ratio", ratio[idx], { borderColor: "#1a1a1a", borderWidth: 1.4 }),
          line("uds weak", udsWeakLevel[idx], { borderColor: C_EDGE, borderWidth: 1, backgroundColor: C_UDS_WEAK, fill: "start" }),
          line("charm strong", charmStrongLevel[idx], { borderColor: C_EDGE, borderWidth: 1, backgroundColor: C_CHARM_STRONG, fill: "start" }),
          line("charm weak", charmWeakLevel[idx], { borderColor: C_EDGE, borderWidth: 1, backgroundColor: C_CHARM_WEAK, fill: "start" }),
          line("uds strong", udsStrongLevel, { borderColor: C_EDGE, borderWidth: 1, backgroundColor: C_UDS_STRONG, fill: "start" }),
        ] as any,
      },
      options: {
        animation: false,
        responsive: false,
        devicePixelRatio: 1,
        events: [],
        layout: { padding: { left: M_L, right: M_R, top: M_T, bottom: M_B } },
        scales: {
          x: { type: "linear", min: KT_MIN, max: KT_MAX, display: false },
          y: { type: "logarithmic", min: Y_MIN, max: Y_MAX, display: false },
        },
        plugins: {
          legend: { display: false },
          tooltip: { enabled: false },
          decor: {
            lo: zLow[idx].toFixed(2),
            hi: zHigh[idx].toFixed(2),
            yLabels: col === 0,
            firstCol: col === 0,
            xLabels: row === 3 || (row === 2 && col >= 3),
          },
        } as any,
      },
      plugins: [decorPlugin as any],
    } as any);
    return () => chart.destroy();
  }, [idx]);
  const w = PLOT_W + M_L + M_R;
  const h = PLOT_H + M_T + M_B;
  return (
    <canvas
      ref={ref}
      width={w}
      height={h}
      style={{ position: "absolute", left: COL_LEFT[col] - M_L, top: ROW_TOP[row] - M_T, width: w, height: h }}
    />
  );
}

const legendItems = [
  { label: "Belle old uds weak", kind: "line", color: C_BELLE_UDS_WEAK, col: 0, row: 0 },
  { label: "Belle old charm weak", kind: "line", color: C_BELLE_CHARM_WEAK, col: 0, row: 1 },
  { label: "uds weak", kind: "box", color: C_UDS_WEAK, col: 0, row: 2 },
  { label: "charm weak", kind: "box", color: C_CHARM_WEAK, col: 0, row: 3 },
  { label: "strong fraction", kind: "dash", color: C_SF, col: 0, row: 4 },
  { label: "Belle old charm strong", kind: "line", color: C_BELLE_CHARM_STRONG, col: 1, row: 0 },
  { label: "Belle old uds strong", kind: "line", color: C_BELLE_UDS_STRONG, col: 1, row: 1 },
  { label: "charm strong", kind: "box", color: C_CHARM_STRONG, col: 1, row: 2 },
  { label: "uds strong", kind: "box", color: C_UDS_STRONG, col: 1, row: 3 },
  { label: "strong fraction (Belle MC)", kind: "dash", color: C_SF_BELLE, col: 1, row: 4 },
];
const LEG_X = [976, 1212];
const LEG_Y = [770, 806, 843, 880, 916];

function Legend() {
  return (
    <>
      {legendItems.map((it) => {
        const x = LEG_X[it.col];
        const y = LEG_Y[it.row];
        let sym: any;
        if (it.kind === "box") {
          sym = (
            <div style={{ position: "absolute", left: x, top: y - 14, width: 43, height: 27, background: it.color, border: "1px solid #222" }} />
          );
        } else if (it.kind === "dash") {
          sym = (
            <div
              style={{
                position: "absolute",
                left: x,
                top: y - 1,
                width: 42,
                height: 1.6,
                backgroundImage: `repeating-linear-gradient(to right, ${it.color} 0px, ${it.color} 4px, transparent 4px, transparent 7px)`,
              }}
            />
          );
        } else {
          sym = <div style={{ position: "absolute", left: x, top: y - 1, width: 42, height: 1.6, background: it.color }} />;
        }
        return (
          <React.Fragment key={it.label}>
            {sym}
            <div style={{ position: "absolute", left: x + 53, top: y - 10, fontSize: 16, lineHeight: "20px", color: "#222", whiteSpace: "nowrap" }}>
              {it.label}
            </div>
          </React.Fragment>
        );
      })}
    </>
  );
}

const boxLines = ["Currently weak", "decays (based on", "MC) not removed,", "both values provided", "in paper"];

export default function App() {
  return (
    <div style={{ position: "fixed", left: 0, top: 0, width: 1501, height: 962, overflow: "hidden", background: "#fff", fontFamily: FONT }}>
      {zLow.map((_, i) => (
        <Panel key={i} idx={i} />
      ))}
      <Legend />
      <div style={{ position: "absolute", left: -14, top: -26, fontSize: 53, lineHeight: "53px", whiteSpace: "nowrap", color: "#000" }}>
        ed states)
      </div>
      <div
        style={{
          position: "absolute",
          left: 226,
          top: -26,
          fontSize: 53,
          lineHeight: "53px",
          fontWeight: "bold",
          whiteSpace: "nowrap",
          color: "#000",
          transform: "scaleX(1.35)",
          transformOrigin: "left center",
        }}
      >
        →
      </div>
      <div style={{ position: "absolute", left: 305, top: -26, fontSize: 53, lineHeight: "53px", whiteSpace: "nowrap", color: "#ff0000" }}>
        Weak
      </div>
      <div style={{ position: "absolute", left: 1170, top: 41, width: 360, height: 342, background: "#ed7d31", overflow: "hidden" }}>
        <div style={{ padding: "10px 0 0 20px", fontSize: 52, lineHeight: "64.5px", color: "#000", whiteSpace: "nowrap" }}>
          {boxLines.map((l) => (
            <div key={l}>{l}</div>
          ))}
        </div>
      </div>
    </div>
  );
}
